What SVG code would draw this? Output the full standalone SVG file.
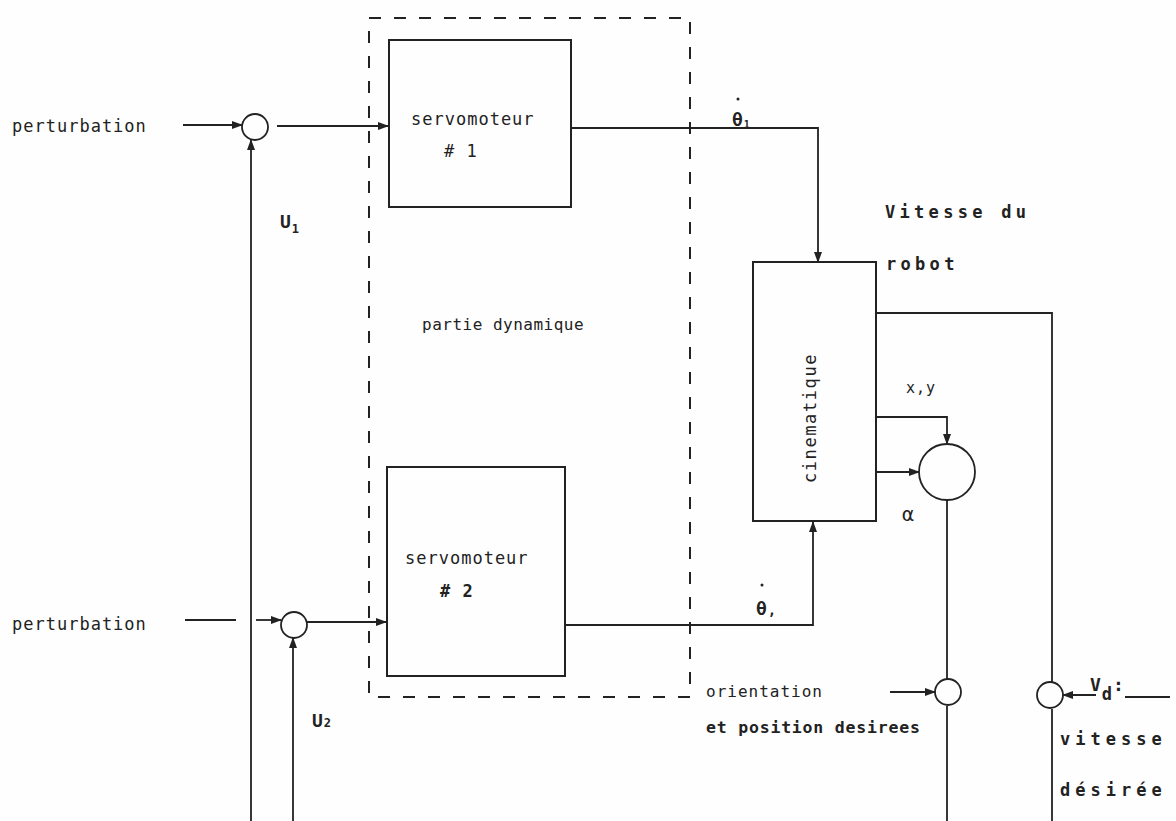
<svg xmlns="http://www.w3.org/2000/svg" width="1176" height="821" viewBox="0 0 1176 821">
<defs>
<marker id="arr" markerUnits="userSpaceOnUse" markerWidth="11" markerHeight="8" refX="10" refY="4" orient="auto">
<path d="M0,0 L11,4 L0,8 z" fill="#222"/>
</marker>
<style>
.ln{fill:none;stroke:#222;stroke-width:1.8}
.bx{fill:none;stroke:#222;stroke-width:2}
.ds{fill:none;stroke:#222;stroke-width:2;stroke-dasharray:12 13}
.t{font-family:"DejaVu Sans Mono","Liberation Mono",monospace;font-size:17px;letter-spacing:1px;fill:#222}
.w{letter-spacing:4.3px;font-weight:bold}
.b{font-weight:bold}
</style>
</defs>
<rect width="1176" height="821" fill="#fefefe"/>

<g id="dynamic-frame">
<path class="ds" d="M369,18 L690,18 L690,697 L369,697 Z"/>
<text class="t" x="422" y="330" style="font-size:16px;letter-spacing:0.5px">partie dynamique</text>
</g>

<g id="servo1">
<rect class="bx" x="389" y="40" width="182" height="167"/>
<text class="t" x="411" y="125">servomoteur</text>
<text class="t" x="444" y="157"># 1</text>
</g>

<g id="servo2">
<rect class="bx" x="387" y="467" width="178" height="209"/>
<text class="t" x="405" y="564">servomoteur</text>
<text class="t b" x="440" y="597"># 2</text>
</g>

<g id="cinematique">
<rect class="bx" x="753" y="262" width="123" height="259"/>
<text class="t" transform="translate(816,418) rotate(-90)" text-anchor="middle" style="letter-spacing:1.6px">cinematique</text>
</g>

<g id="sum1"><circle class="ln" cx="255" cy="127" r="13"/></g>
<g id="sum2"><circle class="ln" cx="294" cy="625" r="13"/></g>
<g id="sum-xy"><circle class="ln" cx="947" cy="472" r="28"/></g>
<g id="sum-orient"><circle class="ln" cx="948" cy="692" r="13"/></g>
<g id="sum-vd"><circle class="ln" cx="1050" cy="695" r="13"/></g>

<g id="connectors">
<path class="ln" d="M183,125 L242,125" marker-end="url(#arr)"/>
<path class="ln" d="M277,126 L388,126" marker-end="url(#arr)"/>
<path class="ln" d="M251,821 L251,140" marker-end="url(#arr)"/>
<path class="ln" d="M185,620 L236,620"/>
<path class="ln" d="M256,620 L281,620" marker-end="url(#arr)"/>
<path class="ln" d="M307,622 L386,622" marker-end="url(#arr)"/>
<path class="ln" d="M293,821 L293,638" marker-end="url(#arr)"/>
<path class="ln" d="M571,128 L818,128 L818,262" marker-end="url(#arr)"/>
<path class="ln" d="M565,625 L813,625 L813,522" marker-end="url(#arr)"/>
<path class="ln" d="M876,313 L1052,313 L1052,682"/>
<path class="ln" d="M1052,709 L1052,821"/>
<path class="ln" d="M876,417 L947,417 L947,444" marker-end="url(#arr)"/>
<path class="ln" d="M876,472 L919,472" marker-end="url(#arr)"/>
<path class="ln" d="M947,500 L947,679"/>
<path class="ln" d="M947,706 L947,821"/>
<path class="ln" d="M890,692 L935,692" marker-end="url(#arr)"/>
<path class="ln" d="M1096,695 L1063,695" marker-end="url(#arr)"/>
<path class="ln" d="M1125,697 L1170,697"/>
</g>

<g id="labels">
<text class="t" x="12" y="132">perturbation</text>
<text class="t" x="12" y="630">perturbation</text>
<text class="t b" x="280" y="228" style="font-size:18px">U<tspan dy="5" font-size="12">1</tspan></text>
<text class="t b" x="312" y="727" style="font-size:18px">U<tspan font-size="12">2</tspan></text>
<text class="t b" x="732" y="126" style="font-size:18px">θ<tspan dy="2" font-size="10">1</tspan></text>
<circle cx="738" cy="99" r="1.5" fill="#222"/>
<text class="t b" x="756" y="615" style="font-size:18px">θ<tspan font-size="14">,</tspan></text>
<circle cx="762" cy="585" r="1.5" fill="#222"/>
<text class="t w" x="885" y="218">Vitesse du</text>
<text class="t w" x="886" y="270">robot</text>
<text class="t" x="906" y="393" style="font-size:15px">x,y</text>
<text class="t" x="902" y="521" style="font-size:20px">α</text>
<text class="t" x="706" y="697" style="font-size:16px">orientation</text>
<text class="t b" x="706" y="733" style="font-size:16.5px;letter-spacing:0.8px">et position desirees</text>
<text class="t b" x="1090" y="691" style="font-size:18px">V<tspan dy="9" font-size="17">d</tspan><tspan dy="-9">:</tspan></text>
<text class="t w" x="1060" y="745" style="letter-spacing:5px">vitesse</text>
<text class="t w" x="1060" y="796" style="letter-spacing:5px">désirée</text>
</g>
</svg>
